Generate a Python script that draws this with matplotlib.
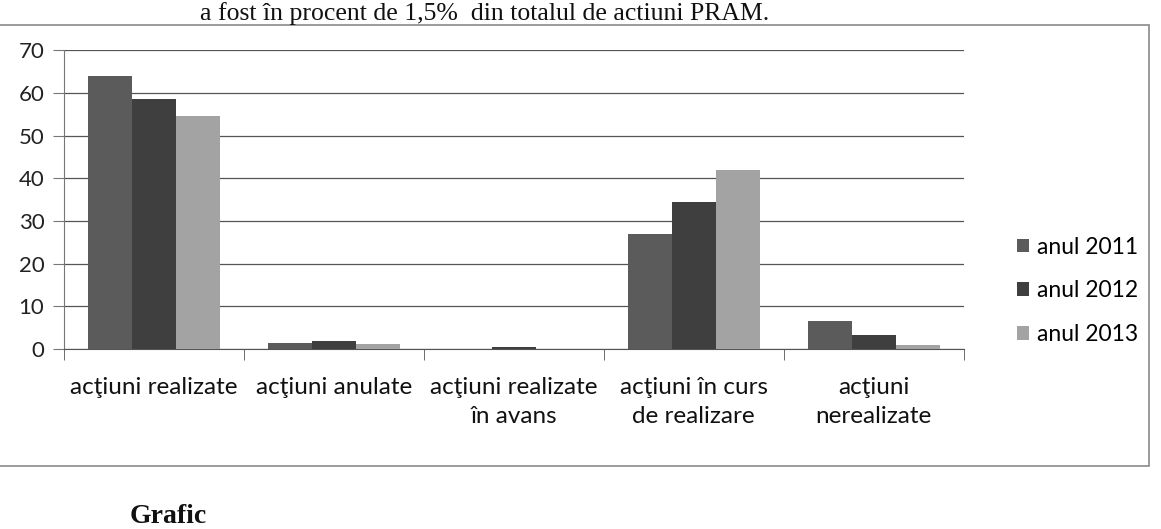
import numpy as np
import matplotlib
matplotlib.use("Agg")
import matplotlib.pyplot as plt
from matplotlib.patches import Rectangle

categories = ["acţiuni realizate", "acţiuni anulate", "acţiuni realizate\nîn avans",
              "acţiuni în curs\nde realizare", "acţiuni\nnerealizate"]
series_names = ["anul 2011", "anul 2012", "anul 2013"]
v2011 = [64, 1.5, 0, 27, 6.5]
v2012 = [58.5, 2, 0.5, 34.5, 3.3]
v2013 = [54.5, 1.2, 0, 42, 0.9]
colors = ["#5b5b5b", "#3f3f3f", "#a3a3a3"]

plt.rcParams['font.family'] = ['Lato', 'DejaVu Sans']

fig = plt.figure(figsize=(11.61, 5.29), dpi=100)
ax = fig.add_axes([0.055, 0.34, 0.775, 0.565])

x = np.arange(len(categories))
w = 0.245
for i, (vals, c, lab) in enumerate(zip([v2011, v2012, v2013], colors, series_names)):
    ax.bar(x + (i - 1) * w, vals, w, color=c, label=lab, zorder=3)

ax.set_xlim(-0.5, len(categories) - 0.5)
ax.set_ylim(0, 70)
ax.set_yticks(np.arange(0, 71, 10))
ax.yaxis.grid(True, color="#555555", lw=0.9, zorder=0)
ax.set_axisbelow(True)
for s in ["top", "right"]:
    ax.spines[s].set_visible(False)
ax.spines["left"].set_color("#777777")
ax.spines["bottom"].set_color("#555555")
ax.tick_params(axis="y", length=8, color="#777777", labelsize=16, pad=6, labelcolor="#222222")
ax.set_xticks(x)
ax.set_xticklabels(categories, fontsize=17.5, color="#111111", linespacing=1.45)
ax.tick_params(axis="x", which="major", length=0, pad=20)
ax.set_xticks(np.arange(-0.5, len(categories), 1), minor=True)
ax.tick_params(axis="x", which="minor", length=8, color="#555555")

fig.legend(loc="center left", bbox_to_anchor=(0.858, 0.45), frameon=False,
           fontsize=16.5, handlelength=0.55, handleheight=0.55, handletextpad=0.35,
           labelspacing=1.0)

fig.patches.append(Rectangle((-0.01, 0.12), 1.0, 0.832, transform=fig.transFigure,
                             fill=False, edgecolor="#8a8a8a", lw=1.2))

fig.text(0.663, 0.963, "a fost în procent de 1,5%  din totalul de actiuni PRAM.",
         ha="right", va="baseline", fontsize=18.5, family="Liberation Serif", color="#111111")
fig.text(0.112, 0.012, "Grafic", ha="left", va="baseline", fontsize=20,
         family="Liberation Serif", weight="bold", color="#111111")

fig.savefig("out.png", dpi=100)
